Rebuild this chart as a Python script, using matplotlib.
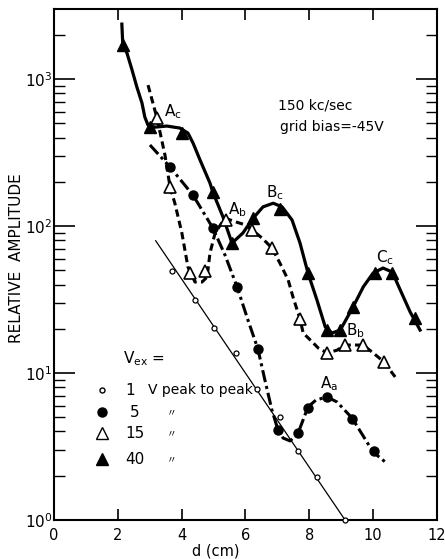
import matplotlib
matplotlib.use('Agg')

import matplotlib.pyplot as plt
from matplotlib.ticker import LogLocator, NullFormatter

# Vex = 1 V peak to peak (open circles, thin straight line)
d1 = [3.70, 4.42, 5.02, 5.71, 6.36, 7.08, 7.65, 8.24, 9.12]
amp1 = [49.4, 31.4, 20.2, 13.7, 7.78, 5.02, 2.95, 1.96, 1.0]
d1_line = [3.19, 9.12]
amp1_line = [79.4, 1.0]

# Vex = 5 V (filled circles, dash-dot curve)
d5 = [3.64, 4.36, 4.98, 5.74, 6.39, 7.02, 7.65, 7.96, 8.56, 9.34, 10.03]
amp5 = [252, 162, 97, 38.5, 14.6, 4.1, 3.9, 5.8, 6.87, 4.87, 2.95]
d5_curve = [3.01, 3.64, 4.36, 4.98, 5.36, 5.74, 6.08, 6.39, 6.61, 6.83, 7.02,
            7.18, 7.40, 7.65, 7.96, 8.21, 8.56, 8.87, 9.34, 10.0, 10.38]
amp5_curve = [356, 252, 162, 97, 63.5, 38.5, 22.9, 14.6, 8.96, 5.6, 4.1,
              3.61, 3.45, 3.9, 5.88, 6.55, 6.87, 6.35, 4.94, 2.9, 2.48]

# Vex = 15 V (open triangles, dashed curve)
d15 = [3.23, 3.64, 4.26, 4.73, 5.39, 6.21, 6.83, 7.71, 8.56, 9.12, 9.69, 10.34]
amp15 = [543, 184, 47.9, 49.4, 110, 94, 70.9, 23.3, 13.7, 15.5, 15.5, 11.9]
d15_curve = [2.95, 3.23, 3.48, 3.64, 3.79, 4.01, 4.20, 4.42, 4.64, 4.80, 4.89,
             5.05, 5.27, 5.42, 5.74, 5.99, 6.21, 6.52, 6.83, 7.08, 7.34, 7.49,
             7.71, 7.81, 8.09, 8.28, 8.56, 8.87, 9.12, 9.69, 10.0, 10.34, 10.69]
amp15_curve = [910, 543, 304, 184, 143, 89.6, 52.6, 41.6, 41.6, 45.0, 65.5,
               89.6, 106, 112, 106, 102, 94, 82.9, 70.9, 56, 42.9, 32.9,
               23.3, 18.7, 16.3, 14.8, 13.7, 14.3, 15.5, 15.5, 13.7, 11.9, 9.4]

# Vex = 40 V (filled triangles, solid curve)
d40 = [2.16, 3.01, 4.01, 4.98, 5.58, 6.24, 7.08, 7.96, 8.56, 8.97, 9.37, 10.06, 10.6, 11.3]
amp40 = [1703, 471, 429, 170, 76.6, 113, 130, 47.9, 19.6, 19.6, 28.1, 47.9, 47.9, 23.7]
d40_curve = [2.13, 2.16, 2.29, 2.45, 2.60, 2.76, 2.85, 2.95, 3.17, 3.54, 3.95,
             4.20, 4.36, 4.58, 4.89, 4.98, 5.30, 5.58, 5.92, 6.24, 6.55, 6.87,
             7.15, 7.46, 7.71, 7.96, 8.24, 8.50, 8.71, 8.97, 9.37, 9.69, 10.0,
             10.31, 10.6, 10.85, 11.16, 11.47]
amp40_curve = [2366, 1703, 1503, 1151, 883, 687, 551, 486, 471, 479, 464,
               429, 367, 281, 196, 170, 115, 76.6, 89.6, 113, 135, 143,
               135, 110, 76.6, 47.9, 31.4, 20.6, 18.7, 19.6, 28.1, 38.5, 47.9,
               51.8, 48.6, 36.7, 26.0, 19.6]

x_ticks = [0, 2, 4, 6, 8, 10, 12]

plt.rcParams['font.family'] = ['DejaVu Sans']

fig = plt.figure(figsize=(4.45, 5.59), dpi=100)
ax = fig.add_axes([0.121, 0.0698, 0.861, 0.914])

# curves
ax.plot(d1_line, amp1_line, color='black', lw=0.9, clip_on=False)
ax.plot(d5_curve, amp5_curve, color='black', lw=2.2, dashes=(4, 1.3, 1, 1.3),
        solid_capstyle='butt')
ax.plot(d15_curve, amp15_curve, color='black', lw=2.2, dashes=(2.4, 1.4))
ax.plot(d40_curve, amp40_curve, color='black', lw=2.3)

# markers
ax.plot(d1, amp1, 'o', ms=3.6, mfc='white', mec='black', mew=0.9,
        clip_on=False, zorder=5)
ax.plot(d5, amp5, 'o', ms=6.5, mfc='black', mec='black', zorder=5)
ax.plot(d15, amp15, '^', ms=8.5, mfc='white', mec='black', mew=1.2, zorder=5)
ax.plot(d40, amp40, '^', ms=8.5, mfc='black', mec='black', zorder=5)

ax.set_xlim(0, 12)
ax.set_yscale('log')
ax.set_ylim(1, 2995)
ax.set_xticks(x_ticks)
ax.yaxis.set_major_locator(LogLocator(base=10, numticks=10))
ax.yaxis.set_minor_locator(LogLocator(base=10, subs=range(2, 10), numticks=20))
ax.yaxis.set_minor_formatter(NullFormatter())

for s in ax.spines.values():
    s.set_linewidth(1.5)
ax.tick_params(axis='x', which='major', direction='in', length=8, width=1.2,
               top=True, pad=6, labelsize=10.5)
ax.tick_params(axis='y', which='major', direction='in', length=15, width=1.2,
               right=True, pad=1, labelsize=11)
ax.tick_params(axis='y', which='minor', direction='in', length=8, width=1.0,
               right=True)

ax.set_xlabel('d (cm)', fontsize=10.5)
ax.xaxis.set_label_coords(0.423, -0.046)
ax.set_ylabel('RELATIVE  AMPLITUDE', fontsize=11)
ax.yaxis.set_label_coords(-0.078, 0.513)

# annotations
ax.text(0.585, 0.812, '150 kc/sec', transform=ax.transAxes, fontsize=10, va='center')
ax.text(0.590, 0.769, 'grid bias=-45V', transform=ax.transAxes, fontsize=10, va='center')

ax.text(3.73, 597, r'A$_\mathregular{c}$', fontsize=11, ha='center', va='center')
ax.text(5.74, 130, r'A$_\mathregular{b}$', fontsize=11, ha='center', va='center')
ax.text(6.93, 168, r'B$_\mathregular{c}$', fontsize=11, ha='center', va='center')
ax.text(10.38, 60.6, r'C$_\mathregular{c}$', fontsize=11, ha='center', va='center')
ax.text(9.44, 19.3, r'B$_\mathregular{b}$', fontsize=11, ha='center', va='center')
ax.text(8.62, 8.42, r'A$_\mathregular{a}$', fontsize=11, ha='center', va='center')

# legend block
ax.text(0.180, 0.315, r'V$_\mathregular{ex}$ =', transform=ax.transAxes,
        fontsize=11, va='center')
rows = [('o', 3.6, 'white', '1', 'V peak to peak'),
        ('o', 6.5, 'black', '5', None),
        ('^', 8.5, 'white', '15', None),
        ('^', 8.5, 'black', '40', None)]
ys = [0.254, 0.211, 0.170, 0.119]
for (m, ms, fc, num, txt), y in zip(rows, ys):
    ax.plot([0.125], [y], m, ms=ms, mfc=fc, mec='black', mew=1.0,
            transform=ax.transAxes)
    xnum = 0.199 if txt else 0.2115
    ax.text(xnum, y, num, transform=ax.transAxes, fontsize=11,
            ha='center', va='center')
    if txt:
        ax.text(0.245, y, txt, transform=ax.transAxes, fontsize=10, va='center')
    else:
        ax.text(0.308, y, '〃', transform=ax.transAxes, fontsize=7,
                ha='center', va='center', family=['Noto Sans CJK JP', 'DejaVu Sans'])

fig.savefig('out.png', dpi=100)
